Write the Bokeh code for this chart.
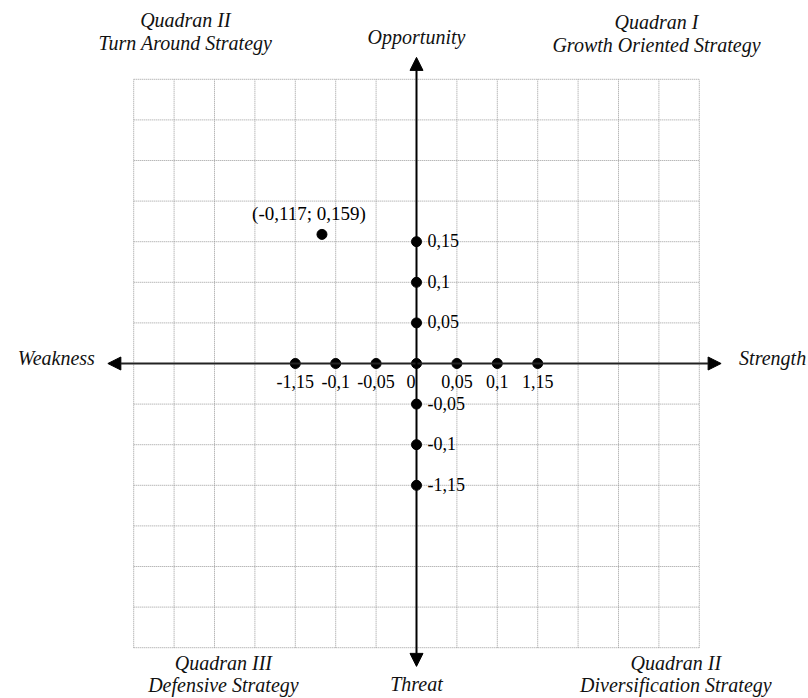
from bokeh.plotting import figure
from bokeh.models import Range1d, Arrow, NormalHead
from bokeh.core.properties import value
from bokeh.embed import file_html
from bokeh.resources import INLINE

# ---- data ----
x_ticks = [-0.15, -0.1, -0.05, 0.05, 0.1, 0.15]
x_tick_labels = ["-1,15", "-0,1", "-0,05", "0,05", "0,1", "1,15"]
y_ticks = [0.15, 0.1, 0.05, -0.05, -0.1, -0.15]
y_tick_labels = ["0,15", "0,1", "0,05", "-0,05", "-0,1", "-1,15"]
origin_label = "0"
point_x = [-0.117]
point_y = [0.159]
point_labels = ["(-0,117; 0,159)"]
axis_names = {"right": "Strength", "left": "Weakness", "top": "Opportunity", "bottom": "Threat"}
quadrant_titles = ["Quadran I", "Quadran II", "Quadran III", "Quadran II"]
quadrant_strategies = ["Growth Oriented Strategy", "Turn Around Strategy",
                       "Defensive Strategy", "Diversification Strategy"]

# ---- layout ----
step = 0.05
ncell = 7
gmax = step * ncell
W, H = 808, 698
ppx = 40.4 / step
ppy = 40.6 / step
cx, cy = 416, 363  # pixel position of the origin
x0, x1 = -cx / ppx, (W - cx) / ppx
y1, y0 = cy / ppy, -(H - cy) / ppy
dx = 1.0 / ppx
dy = 1.0 / ppy

FONT = value("Liberation Serif")

p = figure(width=W, height=H, x_range=Range1d(x0, x1), y_range=Range1d(y0, y1),
           output_backend="svg", toolbar_location=None,
           x_axis_location=None, y_axis_location=None, min_border=0)
p.outline_line_color = None
p.xgrid.visible = False
p.ygrid.visible = False

# grid
gvals = [step * i for i in range(-ncell, ncell + 1)]
p.segment(x0=gvals, y0=[-gmax] * len(gvals), x1=gvals, y1=[gmax] * len(gvals),
          line_color="#9a9a9a", line_width=1, line_dash="1 1")
p.segment(x0=[-gmax] * len(gvals), y0=gvals, x1=[gmax] * len(gvals), y1=gvals,
          line_color="#9a9a9a", line_width=1, line_dash="1 1")

# axes arrows
ext = 0.377
p.add_layout(Arrow(start=NormalHead(size=13, fill_color="black", line_color="black"),
                   end=NormalHead(size=13, fill_color="black", line_color="black"),
                   x_start=-ext - 0.005, y_start=0, x_end=ext, y_end=0,
                   line_color="#222222", line_width=2))
p.add_layout(Arrow(start=NormalHead(size=13, fill_color="black", line_color="black"),
                   end=NormalHead(size=13, fill_color="black", line_color="black"),
                   x_start=0, y_start=-ext + 0.004, x_end=0, y_end=ext,
                   line_color="black", line_width=2))

# tick dots
p.scatter(x=x_ticks + [0], y=[0] * (len(x_ticks) + 1), size=10, color="black")
p.scatter(x=[0] * len(y_ticks), y=y_ticks, size=10, color="black")

# tick labels
tick_style = dict(text_font=FONT, text_font_size="18px", text_baseline="middle",
                  text_color="black")
p.text(x=x_ticks, y=[-18 * dy] * len(x_ticks), text=x_tick_labels,
       text_align="center", **tick_style)
p.text(x=[-1 * dx], y=[-18 * dy], text=[origin_label], text_align="right", **tick_style)
p.text(x=[11 * dx] * len(y_ticks), y=[v + 1 * dy for v in y_ticks], text=y_tick_labels,
       text_align="left", **tick_style)

# highlighted point
p.scatter(x=point_x, y=point_y, size=10, color="black")
p.text(x=[v - 13 * dx for v in point_x], y=[v + 21 * dy for v in point_y], text=point_labels,
       text_font=FONT, text_font_size="19px", text_align="center",
       text_baseline="middle", text_color="black")

# axis names
ital = dict(text_font=FONT, text_font_style="italic", text_font_size="20px",
            text_baseline="middle", text_color="#111111")
p.text(x=[ext + 18 * dx], y=[6 * dy], text=[axis_names["right"]], text_align="left", **ital)
p.text(x=[-ext - 17 * dx], y=[6 * dy], text=[axis_names["left"]], text_align="right", **ital)
p.text(x=[0], y=[ext + 20 * dy], text=[axis_names["top"]], text_align="center", **ital)
p.text(x=[0], y=[-ext - 14 * dy], text=[axis_names["bottom"]], text_align="center", **ital)

# quadrant labels
qx = [0.297, -0.286, -0.239, 0.321]
qy_title = [gmax + 57 * dy, gmax + 59 * dy, -gmax - 15 * dy, -gmax - 15 * dy]
qy_strat = [gmax + 34 * dy, gmax + 36 * dy, -gmax - 37 * dy, -gmax - 37 * dy]
p.text(x=qx, y=qy_title, text=quadrant_titles, text_align="center", **ital)
p.text(x=qx, y=qy_strat, text=quadrant_strategies, text_align="center", **ital)

open("out.html", "w").write(file_html(p, INLINE))
